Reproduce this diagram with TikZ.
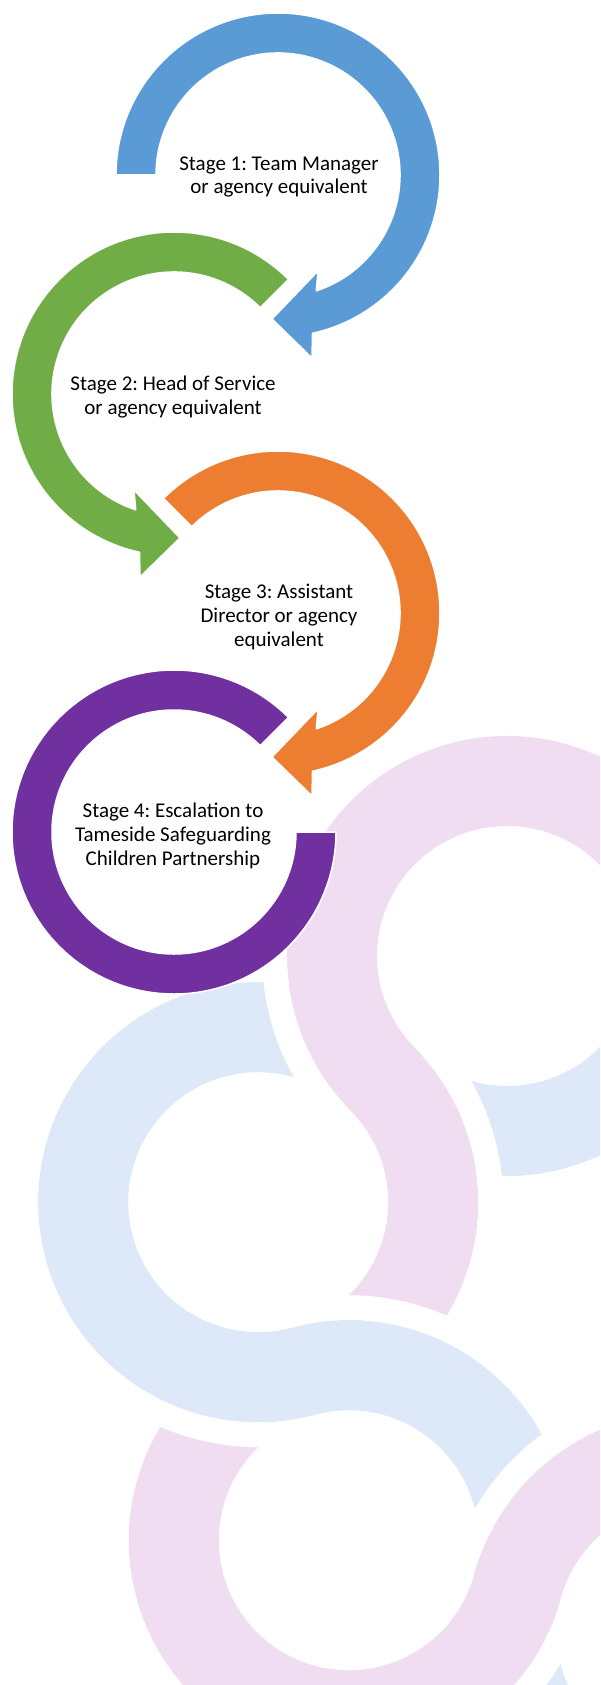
\documentclass[tikz,border=0pt]{standalone}
\usepackage{fontspec}
\setmainfont{Carlito}
\usetikzlibrary{calc}
\frenchspacing
\definecolor{cblue}{HTML}{5B9BD5}
\definecolor{cgreen}{HTML}{70AD47}
\definecolor{corange}{HTML}{ED7D31}
\definecolor{cpurple}{HTML}{7030A0}
\definecolor{bgpink}{RGB}{241,221,242}
\definecolor{bgblue}{RGB}{221,232,249}
% background S-band outlines: #1 inner radius, #2 outer radius
\newcommand\segPone[2]{($(H1)+(-20:#2)$) arc[start angle=-20,end angle=-224.7,radius=#2] arc[start angle=-44.7,end angle=55,radius=#1] -- ($(H2)+(55:#2)$) arc[start angle=55,end angle=-44.7,radius=#2] arc[start angle=135.3,end angle=340,radius=#1] -- cycle}
\newcommand\segBone[2]{($(H2)+(-62:#2)$) arc[start angle=-62,end angle=-285,radius=#2] arc[start angle=255,end angle=355,radius=#1] -- ($(H3)+(355:#2)$) arc[start angle=355,end angle=255,radius=#2] arc[start angle=-285,end angle=-62,radius=#1] -- cycle}
\newcommand\segPtwo[2]{($(H3)+(240:#2)$) arc[start angle=240,end angle=15.2,radius=#2] arc[start angle=195.2,end angle=300,radius=#1] -- ($(H4)+(300:#2)$) arc[start angle=300,end angle=195.2,radius=#2] arc[start angle=15.2,end angle=240,radius=#1] -- cycle}
\newcommand\segBzero[2]{($(H1)+(115:#2)$) arc[start angle=115,end angle=-20,radius=#2] -- ($(H1)+(-20:#1)$) arc[start angle=-20,end angle=115,radius=#1] -- cycle}
\newcommand\segBtwo[2]{($(H4)+(200:#2)$) arc[start angle=200,end angle=90,radius=#2] -- ($(H4)+(90:#1)$) arc[start angle=90,end angle=200,radius=#1] -- cycle}
\tikzset{
  smart/.style={draw=white, line width=1.5pt, line join=round},
  gapfill/.style={fill=white, even odd rule},
  lbl/.style={align=center, inner sep=0pt, text=black, font=\fontsize{21}{23.8}\selectfont}
}
\begin{document}
\begin{tikzpicture}[x=1pt,y=-1pt]
\useasboundingbox (0,0) rectangle (600,1685);
\clip (0,0) rectangle (600,1685);
\fill[white] (0,0) rectangle (600,1685);
% hole centres of the background chain
\coordinate (H1) at (507,956);
\coordinate (H2) at ($(H1)+(135.3:350)$);
\coordinate (H3) at ($(H2)+(75:350)$);
\coordinate (H4) at ($(H3)+(15.2:350)$);
% bands
\fill[bgblue] \segBzero{130}{220};
\fill[bgblue] \segBtwo{130}{220};
\fill[bgblue] \segBone{130}{220};
\fill[bgpink] \segPone{130}{220};
\fill[bgpink] \segPtwo{130}{220};
% crossings: white gap round the band that passes over
\begin{scope}\clip (460,1120) circle[radius=75];
\fill[gapfill] \segPone{105}{245} \segPone{130}{220};\end{scope}
\begin{scope}\clip (305,1035) circle[radius=80];
\fill[gapfill] \segPone{105}{245} \segPone{130}{220};\end{scope}
\begin{scope}\clip (390,1330) circle[radius=80];
\fill[gapfill] \segBone{105}{245} \segBone{130}{220};
\fill[bgblue] \segBone{130}{220};\end{scope}
\begin{scope}\clip (225,1405) circle[radius=80];
\fill[gapfill] \segBone{105}{245} \segBone{130}{220};
\fill[bgblue] \segBone{130}{220};\end{scope}
\begin{scope}\clip (520,1490) circle[radius=75];
\fill[gapfill] \segPtwo{105}{245} \segPtwo{130}{220};\end{scope}
\begin{scope}\clip (545,1645) circle[radius=62];
\fill[gapfill] \segPtwo{105}{245} \segPtwo{130}{220};\end{scope}
% circular arrows
\begin{scope}[shift={(278,175)}]
\path[smart, fill=cblue] (180:162) arc[start angle=180,end angle=437.7,radius=162] -- (34,183) -- (-6,144) -- (40,96) -- (71.7:122) arc[start angle=71.7,end angle=-180,radius=122] -- cycle;
\end{scope}
\begin{scope}[shift={(174,394)}]
\path[smart, fill=cgreen] (-45:162) arc[start angle=-45,end angle=-257.7,radius=162] -- (-34,183) -- (6,144) -- (-40,96) -- (-251.7:122) arc[start angle=-251.7,end angle=-45,radius=122] -- cycle;
\end{scope}
\begin{scope}[shift={(278,613)}]
\path[smart, fill=corange] (225:162) arc[start angle=225,end angle=437.7,radius=162] -- (34,183) -- (-6,144) -- (40,96) -- (71.7:122) arc[start angle=71.7,end angle=-135,radius=122] -- cycle;
\end{scope}
\begin{scope}[shift={(174,832)}]
\path[smart, fill=cpurple] (-45:162) arc[start angle=-45,end angle=-360,radius=162] -- (0:122) arc[start angle=-360,end angle=-45,radius=122] -- cycle;
\end{scope}
% labels
\node[lbl] (t1) at (279,177) {Stage 1: Team Manager\\or agency equivalent};
\node[lbl] (t2) at (173,397) {Stage 2: Head of Service\\or agency equivalent};
\node[lbl] (t3) at (279,617) {Stage 3: Assistant\\Director or agency\\equivalent};
\node[lbl] (t4) at (173,836) {Stage 4: Escalation to\\Tameside Safeguarding\\Children Partnership};
\end{tikzpicture}
\end{document}
